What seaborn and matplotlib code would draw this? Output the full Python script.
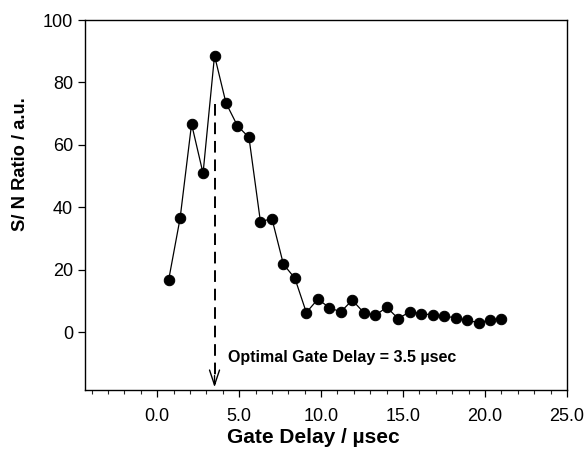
import matplotlib
matplotlib.use("Agg")
import matplotlib.pyplot as plt
from matplotlib.ticker import MultipleLocator, FormatStrFormatter
import seaborn as sns
import pandas as pd

# Gate delay (µs) and measured signal-to-noise ratio
gate_delay = [0.7, 1.4, 2.1, 2.8, 3.5, 4.2, 4.9, 5.6, 6.3, 7.0,
              7.7, 8.4, 9.1, 9.8, 10.5, 11.2, 11.9, 12.6, 13.3, 14.0,
              14.7, 15.4, 16.1, 16.8, 17.5, 18.2, 18.9, 19.6, 20.3, 21.0]
sn_ratio = [16.7, 36.5, 66.7, 50.9, 88.6, 73.4, 66.1, 62.4, 35.4, 36.4,
            21.8, 17.3, 6.3, 10.6, 7.9, 6.5, 10.3, 6.3, 5.4, 8.0,
            4.4, 6.5, 6.0, 5.5, 5.2, 4.6, 3.8, 3.1, 3.9, 4.4]

optimal_delay = 3.5
annotation = "Optimal Gate Delay = 3.5 \u00b5sec"

df = pd.DataFrame({"delay": gate_delay, "sn": sn_ratio})

sns.set_theme(style="ticks")
plt.rcParams["font.family"] = ["Liberation Sans", "DejaVu Sans"]
plt.rcParams["text.color"] = "black"
plt.rcParams["axes.labelcolor"] = "black"

fig = plt.figure(figsize=(5.87, 4.59), dpi=100)
ax = fig.add_axes([0.1448, 0.1503, 0.966 - 0.1448, 0.9564 - 0.1503])

sns.lineplot(data=df, x="delay", y="sn", ax=ax, color="black", linewidth=0.9,
             marker="o", markersize=7.5, markeredgecolor="black",
             markerfacecolor="black", sort=False)

# Dashed marker line with open arrowhead at the optimal delay
ax.plot([optimal_delay, optimal_delay], [73, -16.5], color="black",
        linewidth=1.4, linestyle=(0, (6, 3.5)))
ax.annotate("", xy=(optimal_delay, -18.5), xytext=(optimal_delay, -13),
            arrowprops=dict(arrowstyle="->,head_length=0.9,head_width=0.3",
                            color="black", lw=1.0))
ax.text(4.3, -8.0, annotation, fontsize=11.5, fontweight="bold",
        ha="left", va="center")

ax.set_xlim(-4.4, 25.0)
ax.set_ylim(-18.5, 100)
ax.xaxis.set_major_locator(MultipleLocator(5))
ax.xaxis.set_minor_locator(MultipleLocator(1))
ax.xaxis.set_major_formatter(FormatStrFormatter("%.1f"))
ax.set_yticks([0, 20, 40, 60, 80, 100])

ax.tick_params(axis="both", which="major", direction="out", length=5,
               width=0.9, labelsize=13, colors="black")
ax.tick_params(axis="x", which="minor", direction="out", length=3, width=0.8)
ax.tick_params(axis="x", which="major", pad=8)

for side in ["left", "right", "top", "bottom"]:
    ax.spines[side].set_visible(True)
    ax.spines[side].set_color("black")
    ax.spines[side].set_linewidth(1.0)

ax.set_xlabel("Gate Delay / \u00b5sec", fontsize=15, fontweight="bold")
ax.set_ylabel("S/ N Ratio / a.u.", fontsize=13.2, fontweight="bold")
ax.xaxis.set_label_coords(0.473, -0.103)
ax.yaxis.set_label_coords(-0.116, 0.61)

fig.savefig("out.png", dpi=100, facecolor="white")
